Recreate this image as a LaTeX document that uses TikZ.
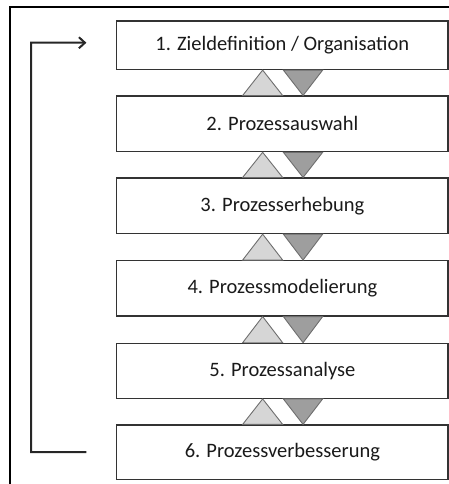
\documentclass[tikz,border=0pt]{standalone}
\usepackage{fontspec}
\setmainfont{Carlito}
\usetikzlibrary{calc,arrows.meta}

\definecolor{boxline}{HTML}{333333}
\definecolor{uptri}{HTML}{D6D6D6}
\definecolor{downtri}{HTML}{9E9E9E}
\definecolor{triline}{HTML}{6E6E6E}
\definecolor{txt}{HTML}{1A1A1A}

\tikzset{
  phase/.style={draw=boxline, line width=1.2pt, fill=white, minimum width=331.3pt,
    inner sep=0pt, text=txt, font=\fontsize{20.5}{24}\selectfont},
  uparrow/.style={draw=triline, line width=0.9pt, fill=uptri, line join=miter},
  downarrow/.style={draw=triline, line width=0.9pt, fill=downtri, line join=miter},
  frameline/.style={line width=2pt, black},
  loop/.style={line width=2pt, draw=black!85, -{Straight Barb[length=6pt,width=11pt,line width=2pt]}}
}

\begin{document}
\begin{tikzpicture}[x=1pt,y=-1pt]
  \useasboundingbox (0,0) rectangle (449,484);

  % outer frame (top and left edge)
  \draw[frameline] (9.5,484) -- (9.5,6.7) -- (449,6.7);

  % the six phases
  \node[phase, minimum height=48.5pt] (b1) at (282.35,45.25) {1. Zieldefinition / Organisation};
  \node[phase, minimum height=55.6pt] (b2) at (282.35,123.9) {2. Prozessauswahl};
  \node[phase, minimum height=55.5pt] (b3) at (282.35,205.8) {3. Prozesserhebung};
  \node[phase, minimum height=55.3pt] (b4) at (282.35,288.3) {4. Prozessmodelierung};
  \node[phase, minimum height=55pt]   (b5) at (282.35,370.8) {5. Prozessanalyse};
  \node[phase, minimum height=54.3pt] (b6) at (282.35,452.15) {6. Prozessverbesserung};

  % feedback triangles between consecutive phases
  \foreach \u/\l in {b1/b2, b2/b3, b3/b4, b4/b5, b5/b6} {
    \path (\u.south) coordinate (top) (\l.north) coordinate (bot);
    \draw[uparrow]
      ($(bot)+(-39.7,0)$) -- ($(top)+(-19.7,0)$) -- ($(bot)+(0.3,0)$) -- cycle;
    \draw[downarrow]
      ($(top)+(1,0)$) -- ($(bot)+(20.7,0)$) -- ($(top)+(40.3,0)$) -- cycle;
  }

  % loop back from the last phase to the first
  \coordinate (e6) at ($(b6.west)+(-29.7,0)$);
  \coordinate (e1) at ($(b1.west)+(-29.7,-2.5)$);
  \coordinate (c6) at (31,452.15);
  \coordinate (c1) at (31,42.7);
  \draw[loop, line join=miter] (e6) -- (c6) -- (c1) -- (e1);
\end{tikzpicture}
\end{document}
